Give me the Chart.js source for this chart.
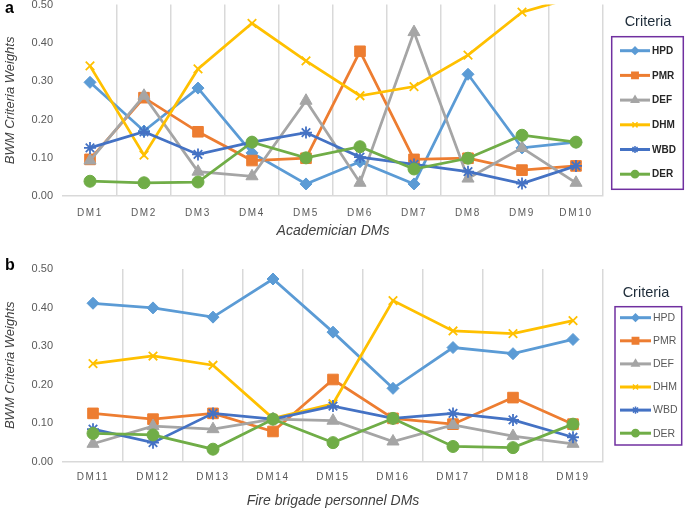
<!DOCTYPE html>
<html>
<head>
<meta charset="utf-8">
<script src="https://cdn.jsdelivr.net/npm/chart.js@4.4.1/dist/chart.umd.min.js"></script>
<style>
  body { margin: 0; background: #fff; width: 685px; height: 514px; overflow: hidden; position: relative; }
  .wrap { position: absolute; left: 0; width: 685px; }
  .tag { position: absolute; left: 5px; font: bold 16px "Liberation Sans", Arial, sans-serif; color: #000; line-height: 18px; }
</style>
</head>
<body>
<div class="wrap" style="top:-4px;height:250px"><canvas id="chartA" width="685" height="250"></canvas></div>
<div class="wrap" style="top:250px;height:264px"><canvas id="chartB" width="685" height="264"></canvas></div>
<div class="tag" style="top:-1px">a</div>
<div class="tag" style="top:256px">b</div>
<script>
var criteria = ["HPD", "PMR", "DEF", "DHM", "WBD", "DER"];

// panel a - academician DMs
var catsA = ["DM1", "DM2", "DM3", "DM4", "DM5", "DM6", "DM7", "DM8", "DM9", "DM10"];
var hpdA = [0.297, 0.170, 0.282, 0.113, 0.032, 0.090, 0.032, 0.318, 0.126, 0.141];
var pmrA = [0.096, 0.257, 0.168, 0.093, 0.099, 0.378, 0.096, 0.099, 0.068, 0.079];
var defA = [0.093, 0.262, 0.064, 0.052, 0.249, 0.035, 0.428, 0.046, 0.126, 0.035];
var dhmA = [0.340, 0.107, 0.332, 0.451, 0.353, 0.262, 0.286, 0.368, 0.480, 0.520];
var wbdA = [0.126, 0.168, 0.109, 0.141, 0.166, 0.102, 0.083, 0.064, 0.033, 0.079];
var derA = [0.039, 0.035, 0.037, 0.141, 0.100, 0.129, 0.071, 0.099, 0.159, 0.141];

// panel b - fire brigade personnel DMs
var catsB = ["DM11", "DM12", "DM13", "DM14", "DM15", "DM16", "DM17", "DM18", "DM19"];
var hpdB = [0.411, 0.399, 0.375, 0.474, 0.336, 0.190, 0.296, 0.280, 0.317];
var pmrB = [0.125, 0.110, 0.125, 0.078, 0.213, 0.112, 0.097, 0.166, 0.097];
var defB = [0.046, 0.092, 0.084, 0.110, 0.106, 0.052, 0.095, 0.066, 0.046];
var dhmB = [0.254, 0.274, 0.250, 0.112, 0.150, 0.418, 0.339, 0.332, 0.366];
var wbdB = [0.084, 0.049, 0.125, 0.110, 0.144, 0.112, 0.125, 0.108, 0.063];
var derB = [0.073, 0.069, 0.032, 0.110, 0.049, 0.112, 0.039, 0.036, 0.097];

var yTicks = [0, 0.1, 0.2, 0.3, 0.4, 0.5];

var FONT = '"Liberation Sans", Arial, sans-serif';
var looks = [
  { c: "#5B9BD5", p: "rectRot", r: 6 },
  { c: "#ED7D31", p: "rect", r: 7.5 },
  { c: "#A5A5A5", p: "triangle", r: 7 },
  { c: "#FFC000", p: "crossRot", r: 6 },
  { c: "#4472C4", p: "star", r: 6 },
  { c: "#70AD47", p: "circle", r: 6 }
];

// legend box drawn on the right, Excel style
var legendBox = {
  id: "legendBox",
  afterDraw: function (chart, args, o) {
    var ctx = chart.ctx;
    ctx.save();
    ctx.font = "14.5px " + FONT;
    ctx.fillStyle = "#1F2D3A";
    ctx.textAlign = "center";
    ctx.textBaseline = "middle";
    ctx.fillText("Criteria", o.titleX, o.titleY);
    ctx.strokeStyle = "#7030A0";
    ctx.lineWidth = 1.5;
    ctx.strokeRect(o.x, o.y, o.w, o.h);
    chart.data.datasets.forEach(function (ds, i) {
      var y = o.itemY + i * o.gap;
      ctx.strokeStyle = ds.borderColor;
      ctx.fillStyle = ds.borderColor;
      ctx.lineWidth = 3;
      ctx.beginPath();
      ctx.moveTo(o.lineX, y);
      ctx.lineTo(o.lineX + o.lineLen, y);
      ctx.stroke();
      ctx.lineWidth = 1.5;
      Chart.helpers.drawPoint(ctx, { pointStyle: ds.pointStyle, radius: ds.pointRadius * 0.6, borderWidth: 1.5, rotation: 0 }, o.lineX + o.lineLen / 2, y);
      ctx.font = o.textFont;
      ctx.fillStyle = o.textColor;
      ctx.textAlign = "left";
      ctx.fillText(ds.label, o.lineX + o.lineLen + 2, y + 0.5);
    });
    ctx.restore();
  }
};

function makeChart(id, cats, series, xTitle, pad, xHeight, tickPad, titlePad, legendOpts) {
  var datasets = series.map(function (d, i) {
    var lk = looks[i];
    return {
      label: criteria[i],
      data: d,
      borderColor: lk.c,
      backgroundColor: lk.c,
      pointStyle: lk.p,
      pointRadius: lk.r,
      pointBorderWidth: (lk.p === "crossRot" || lk.p === "star") ? 1.8 : 1,
      borderWidth: 2.75,
      tension: 0,
      order: 5 - i
    };
  });
  var chart = new Chart(document.getElementById(id), {
    type: "line",
    data: { labels: cats, datasets: datasets },
    plugins: [legendBox],
    options: {
      responsive: false,
      animation: false,
      layout: { padding: pad },
      plugins: {
        legend: { display: false },
        tooltip: { enabled: false },
        legendBox: legendOpts
      },
      scales: {
        x: {
          offset: true,
          afterFit: function (s) { s.height = xHeight; },
          grid: {
            offset: true,
            drawTicks: false,
            lineWidth: 1.5,
            color: function (c) { return c.index === 0 ? "rgba(0,0,0,0)" : "#D9D9D9"; }
          },
          border: { color: "#D9D9D9", width: 1.5 },
          ticks: { color: "#595959", font: { size: 10, family: FONT }, padding: tickPad, maxRotation: 0, autoSkip: false },
          title: { display: true, text: xTitle, color: "#404040", font: { size: 14, style: "italic", family: FONT }, padding: titlePad }
        },
        y: {
          min: 0,
          max: 0.5,
          afterBuildTicks: function (s) { s.ticks = yTicks.map(function (v) { return { value: v }; }); },
          afterFit: function (s) { s.width = 63; s.paddingTop = 0; s.paddingBottom = 0; },
          grid: { display: false, drawTicks: false },
          border: { display: false },
          ticks: { color: "#595959", font: { size: 11, family: FONT }, padding: 10, callback: function (v) { return v.toFixed(2); } },
          title: { display: true, text: "BWM Criteria Weights", color: "#404040", font: { size: 13, style: "italic", family: FONT }, padding: { top: 3, bottom: 0 } }
        }
      }
    }
  });
  // spaced-out category labels like the original
  var xs = chart.scales.x;
  var orig = xs.drawLabels;
  xs.drawLabels = function (area) {
    var ctx = this.ctx;
    ctx.save();
    ctx.letterSpacing = "1.7px";
    orig.call(this, area);
    ctx.restore();
  };
  chart.draw();
  return chart;
}

makeChart("chartA", catsA, [hpdA, pmrA, defA, dhmA, wbdA, derA], "Academician DMs",
  { top: 0, right: 82, bottom: 2, left: 0 }, 47.8, 11, { top: 4, bottom: 4 },
  { titleX: 648, titleY: 25.7, x: 611.7, y: 40.7, w: 71.6, h: 152.6, itemY: 54.7, gap: 24.7,
    lineX: 620, lineLen: 30, textFont: "bold 10px " + FONT, textColor: "#262626" });

makeChart("chartB", catsB, [hpdB, pmrB, defB, dhmB, wbdB, derB], "Fire brigade personnel DMs",
  { top: 19, right: 82, bottom: 0, left: 0 }, 52.5, 10, { top: 10, bottom: 4 },
  { titleX: 646, titleY: 43.3, x: 615, y: 56.7, w: 66.7, h: 138.3, itemY: 67.7, gap: 23.1,
    lineX: 620, lineLen: 31, textFont: "10.5px " + FONT, textColor: "#595959" });
</script>
</body>
</html>
